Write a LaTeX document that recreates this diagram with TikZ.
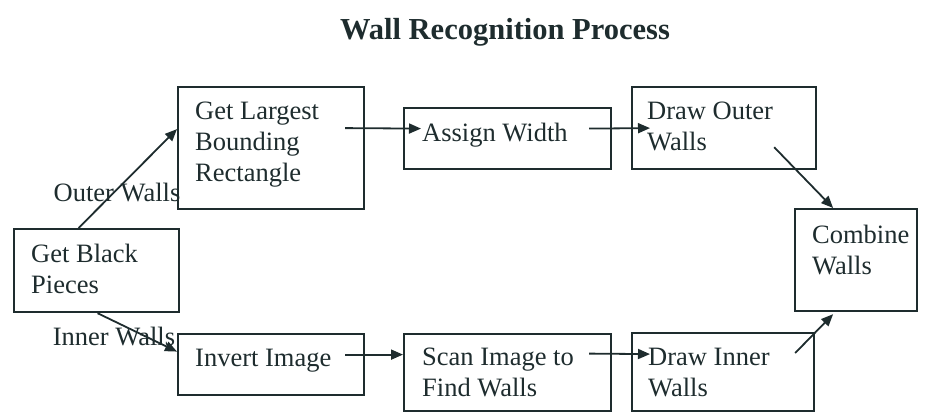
\documentclass[tikz,border=0pt]{standalone}
\usepackage{fontspec}
\setmainfont{Liberation Serif}
\usetikzlibrary{arrows.meta}
\definecolor{ink}{HTML}{1E2C2E}
\tikzset{
  stepbox/.style={draw=ink, line width=2.2pt, rectangle, inner sep=0pt, anchor=north west},
  boxtext/.style={text=ink, anchor=north west, inner sep=0pt, align=left,
                  font=\fontsize{26.5}{31}\selectfont},
  edgelabel/.style={text=ink, inner sep=0pt, font=\fontsize{26.5}{31}\selectfont},
  flow/.style={draw=ink, line width=1.8pt, -{Triangle[length=12pt,width=10pt]}}
}
\begin{document}
\begin{tikzpicture}[x=1pt,y=-1pt]
\useasboundingbox (0,0) rectangle (930,412);

% title
\node[text=ink, anchor=base, inner sep=0pt, font=\fontsize{30.5}{36}\selectfont\bfseries]
  (title) at (505,40) {Wall Recognition Process};

% process boxes
\node[stepbox, minimum width=165pt, minimum height=83pt]  (black)   at (13,228)  {};
\node[stepbox, minimum width=186pt, minimum height=122pt] (largest) at (177,86)  {};
\node[stepbox, minimum width=207pt, minimum height=61pt]  (assign)  at (403,107) {};
\node[stepbox, minimum width=184pt, minimum height=82pt]  (outer)   at (631,86)  {};
\node[stepbox, minimum width=122pt, minimum height=102pt] (combine) at (794,208) {};
\node[stepbox, minimum width=186pt, minimum height=61pt]  (invert)  at (177,333) {};
\node[stepbox, minimum width=207pt, minimum height=77pt]  (scan)    at (403,333) {};
\node[stepbox, minimum width=182pt, minimum height=78pt]  (inner)   at (631,332) {};

% box captions
\node[boxtext] (black-t)   at ([shift={(18pt,-16pt)}]black.north west)   {Get Black\\Pieces};
\node[boxtext] (largest-t) at ([shift={(18pt,-16pt)}]largest.north west) {Get Largest\\Bounding\\Rectangle};
\node[boxtext] (assign-t)  at ([shift={(19pt,-16pt)}]assign.north west)  {Assign Width};
\node[boxtext] (outer-t)   at ([shift={(16pt,-16pt)}]outer.north west)   {Draw Outer\\Walls};
\node[boxtext] (combine-t) at ([shift={(18pt,-17pt)}]combine.north west) {Combine\\Walls};
\node[boxtext] (invert-t)  at ([shift={(18pt,-16pt)}]invert.north west)  {Invert Image};
\node[boxtext] (scan-t)    at ([shift={(19pt,-15pt)}]scan.north west)    {Scan Image to\\Find Walls};
\node[boxtext] (inner-t)   at ([shift={(17pt,-16pt)}]inner.north west)   {Draw Inner\\Walls};

% connectors
\draw[flow] ([xshift=-18pt]black.north) -- ([yshift=19pt]largest.west);
\draw[flow] ([xshift=1pt]black.south) -- ([yshift=13pt]invert.west);
\draw[flow] ([shift={(-20pt,20pt)}]largest.east) -- ([shift={(18pt,10pt)}]assign.west);
\draw[flow] ([shift={(-23pt,10pt)}]assign.east) -- ([shift={(19pt,0pt)}]outer.west);
\draw[flow] ([shift={(-43pt,23pt)}]outer.south east) -- ([xshift=-23pt]combine.north);
\draw[flow] ([shift={(-23pt,19pt)}]scan.east) -- ([shift={(19pt,18pt)}]inner.west);
\draw[flow] ([shift={(-20pt,10pt)}]invert.east) -- ([yshift=18pt]scan.west);
\draw[flow] ([shift={(-20pt,-21pt)}]inner.north east) -- ([shift={(-23pt,-2pt)}]combine.south);

% branch labels
\node[edgelabel] (outer-l) at (117,193) {Outer Walls};
\node[edgelabel] (inner-l) at (114,337) {Inner Walls};
\end{tikzpicture}
\end{document}
